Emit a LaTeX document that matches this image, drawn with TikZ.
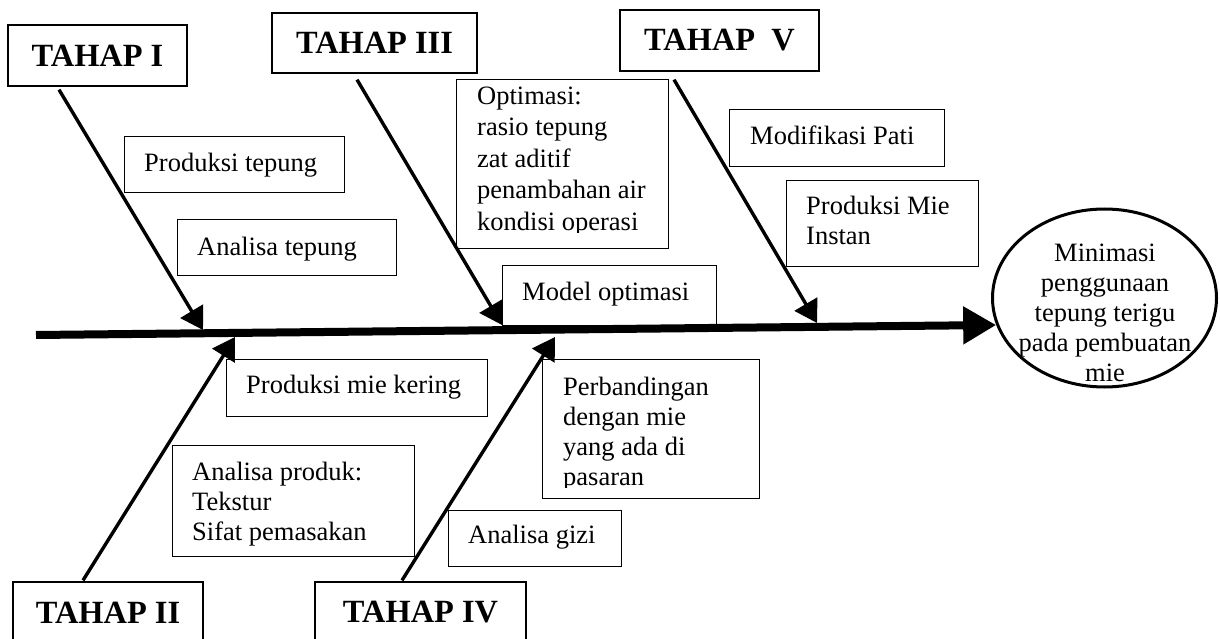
\documentclass[tikz,border=0pt]{standalone}
\usepackage{fontspec}
\setmainfont{Liberation Serif}
\usetikzlibrary{arrows.meta,shapes.geometric}

\begin{document}
\begin{tikzpicture}[x=1pt,y=-1pt,
  stage/.style={draw,line width=1.3pt,fill=white,inner sep=0pt,
    font=\fontsize{32.4}{36}\selectfont\bfseries},
  box/.style={draw,line width=1.3pt,fill=white,inner sep=0pt,anchor=north west},
  note/.style={inner sep=0pt,anchor=north west,align=left,
    font=\fontsize{26.5}{30}\selectfont},
  branch/.style={line width=3.4pt,-{Triangle[length=22pt,width=26pt]}},
  spine/.style={line width=8pt,-{Triangle[length=33pt,width=36pt]}},
]
\useasboundingbox (0,0) rectangle (1220,639);
\clip (0,0) rectangle (1220,639);

% stage boxes
\node[stage,minimum width=179pt,minimum height=61pt] (t1) at (97.5,55.5) {TAHAP I};
\node[stage,minimum width=205pt,minimum height=60pt] (t3) at (374.5,43) {TAHAP III};
\node[stage,minimum width=199pt,minimum height=61pt] (t5) at (719.5,40.5) {TAHAP\ \ V};
\node[stage,minimum width=190pt,minimum height=61pt] (t2) at (108,612.5) {TAHAP II};
\node[stage,minimum width=211pt,minimum height=61pt] (t4) at (420.5,612.5) {TAHAP IV};

% activity boxes
\node[box,minimum width=220pt,minimum height=56pt] (prodtep) at (124,136) {};
\node[box,minimum width=219pt,minimum height=56pt] (antep) at (177,219) {};
\node[box,minimum width=212pt,minimum height=169pt] (optim) at (456,79) {};
\node[box,minimum width=214pt,minimum height=60pt] (model) at (502,265) {};
\node[box,minimum width=215pt,minimum height=57pt] (modpati) at (729,109) {};
\node[box,minimum width=192pt,minimum height=86pt] (prodmie) at (786,180) {};
\node[box,minimum width=261pt,minimum height=57pt] (kering) at (226,359) {};
\node[box,minimum width=242pt,minimum height=111pt] (anprod) at (172,445) {};
\node[box,minimum width=217pt,minimum height=139pt] (banding) at (542,359) {};
\node[box,minimum width=173pt,minimum height=56pt] (gizi) at (448,510) {};

% box texts
\node[note] (prodtep-t) at ([shift={(20,14)}]prodtep.north west) {\strut Produksi tepung};
\node[note] (antep-t) at ([shift={(20,15)}]antep.north west) {\strut Analisa tepung};
\node[note] (model-t) at ([shift={(20,14)}]model.north west) {\strut Model optimasi};
\node[note] (modpati-t) at ([shift={(21,14)}]modpati.north west) {\strut Modifikasi Pati};
\node[note] (prodmie-t) at ([shift={(20,13)}]prodmie.north west) {\strut Produksi Mie\\Instan};
\node[note] (kering-t) at ([shift={(20,13)}]kering.north west) {\strut Produksi mie kering};
\node[note] (anprod-t) at ([shift={(20,14)}]anprod.north west) {\strut Analisa produk:\\Tekstur\\Sifat pemasakan};
\node[note] (gizi-t) at ([shift={(20,12)}]gizi.north west) {\strut Analisa gizi};
\begin{scope}
  \clip (optim.north west) rectangle ([shift={(0,-17)}]optim.south east);
  \node[note,font=\fontsize{26.5}{31.5}\selectfont] (optim-t) at ([shift={(21,3)}]optim.north west)
    {\strut Optimasi:\\rasio tepung\\zat aditif\\penambahan air\\kondisi operasi};
\end{scope}
\begin{scope}
  \clip (banding.north west) rectangle ([shift={(0,-12)}]banding.south east);
  \node[note] (banding-t) at ([shift={(21,15)}]banding.north west)
    {\strut Perbandingan\\dengan mie\\yang ada di\\pasaran};
\end{scope}

% goal
\node[draw,ellipse,line width=3pt,minimum width=224pt,minimum height=178pt,inner sep=0pt]
  (goal) at (1104.5,298) {};
\node[note,anchor=north,align=center] (goal-t) at (1105,240)
  {\strut Minimasi\\penggunaan\\tepung terigu\\pada pembuatan\\mie};

% backbone
\coordinate (tail) at (36,335);
\draw[spine] (tail) -- (goal.194);

% points on the backbone
\coordinate (s1) at (203,330);
\coordinate (s3) at (502,325);
\coordinate (s5) at (817,323);
\coordinate (s2) at (235,337);
\coordinate (s4) at (555,337);

% branches
\draw[branch] ([shift={(-38.5,3)}]t1.south) -- (s1);
\draw[branch] ([shift={(-17.5,6)}]t3.south) -- (s3);
\draw[branch] ([shift={(-45.5,8)}]t5.south) -- (s5);
\draw[branch] ([shift={(-25,-1)}]t2.north) -- (s2);
\draw[branch] ([shift={(-18.5,-1)}]t4.north) -- (s4);
\end{tikzpicture}
\end{document}
